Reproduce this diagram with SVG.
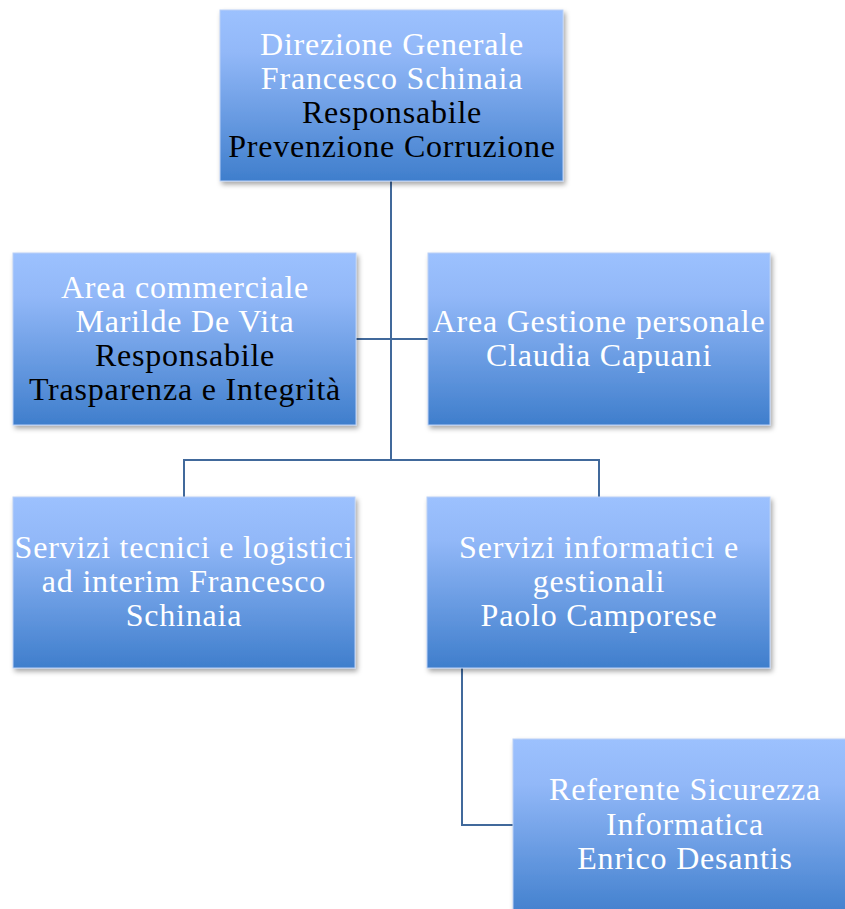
<svg xmlns="http://www.w3.org/2000/svg" width="845" height="909" viewBox="0 0 845 909">
<defs>
<linearGradient id="g" x1="0" y1="0" x2="0" y2="1">
<stop offset="0" stop-color="#9cc1fe"/>
<stop offset="0.25" stop-color="#92b8f8"/>
<stop offset="1" stop-color="#3f7ecc"/>
</linearGradient>
<filter id="sh" x="-10%" y="-10%" width="125%" height="130%">
<feDropShadow dx="2" dy="3" stdDeviation="2.5" flood-color="#000" flood-opacity="0.35"/>
</filter>
</defs>
<style>
.box{fill:url(#g);stroke:#b9d0f6;stroke-width:1;filter:url(#sh)}
.t{font-family:"Liberation Serif","Times New Roman",serif;font-size:32px;letter-spacing:0.8px;text-anchor:middle}
.w{fill:#ffffff}
.k{fill:#000000}
.c{fill:none;stroke:#41699b;stroke-width:2}
</style>
<rect width="845" height="909" fill="#ffffff"/>
<g id="connectors">
<path class="c" d="M391 181 V460"/>
<path class="c" d="M356 339 H428"/>
<path class="c" d="M184 497 V460 H599 V497"/>
<path class="c" d="M462 668 V825 H513"/>
</g>
<g id="n1">
<rect class="box" x="220" y="10" width="343" height="171"/>
<text class="t w" x="392" y="55">Direzione Generale</text>
<text class="t w" x="392" y="89">Francesco Schinaia</text>
<text class="t k" x="392" y="123">Responsabile</text>
<text class="t k" x="392" y="157">Prevenzione Corruzione</text>
</g>
<g id="n2">
<rect class="box" x="13" y="253" width="343" height="172"/>
<text class="t w" x="185" y="298">Area commerciale</text>
<text class="t w" x="185" y="332">Marilde De Vita</text>
<text class="t k" x="185" y="366">Responsabile</text>
<text class="t k" x="185" y="400">Trasparenza e Integrità</text>
</g>
<g id="n3">
<rect class="box" x="428" y="253" width="342" height="172"/>
<text class="t w" x="599" y="332">Area Gestione personale</text>
<text class="t w" x="599" y="366">Claudia Capuani</text>
</g>
<g id="n4">
<rect class="box" x="13" y="497" width="342" height="171"/>
<text class="t w" x="184" y="558">Servizi tecnici e logistici</text>
<text class="t w" x="184" y="592">ad interim Francesco</text>
<text class="t w" x="184" y="626">Schinaia</text>
</g>
<g id="n5">
<rect class="box" x="427" y="497" width="343" height="171"/>
<text class="t w" x="599" y="558">Servizi informatici e</text>
<text class="t w" x="599" y="592">gestionali</text>
<text class="t w" x="599" y="626">Paolo Camporese</text>
</g>
<g id="n6">
<rect class="box" x="513" y="739" width="342" height="180"/>
<text class="t w" x="685" y="800">Referente Sicurezza</text>
<text class="t w" x="685" y="835">Informatica</text>
<text class="t w" x="685" y="869">Enrico Desantis</text>
</g>
</svg>
